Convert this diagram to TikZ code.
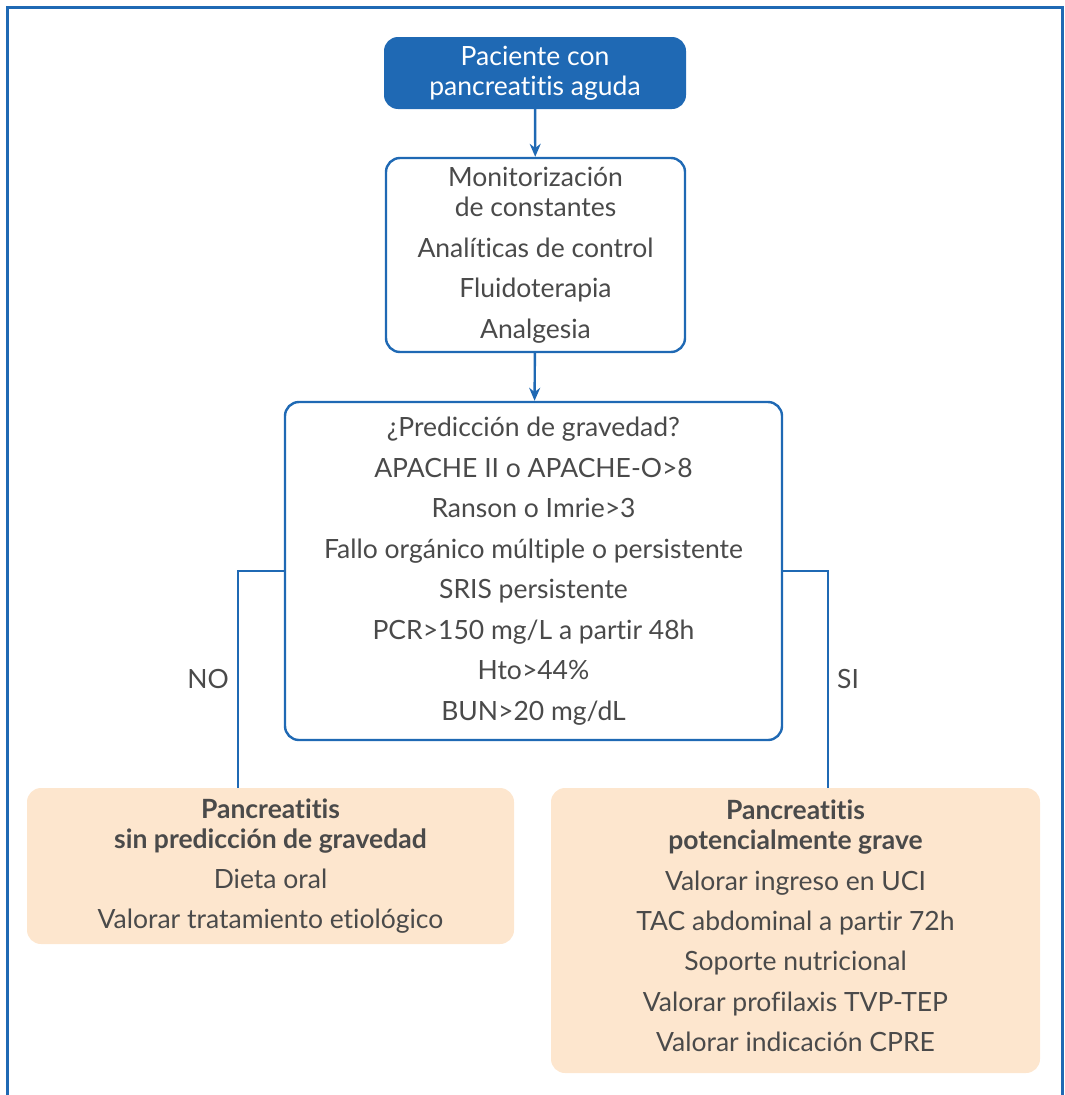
\documentclass[tikz,border=0pt]{standalone}
\usepackage{fontspec}
\setmainfont{Lato}[Ligatures=NoCommon]
\usetikzlibrary{arrows.meta}
\definecolor{flowblue}{HTML}{1F69B4}
\definecolor{peach}{HTML}{FDE6CE}
\definecolor{txtgray}{HTML}{4A4A4A}

\begin{document}
\begin{tikzpicture}
[x=1pt,y=-1pt,
 every node/.style={font=\fontsize{26.5}{30}\selectfont,text=txtgray,align=center,inner sep=0pt},
 topbox/.style={rectangle,rounded corners=14pt,fill=flowblue,text=white},
 stepbox/.style={rectangle,rounded corners=14pt,draw=flowblue,line width=2.4pt,fill=white},
 outbox/.style={rectangle,rounded corners=14pt,fill=peach},
 link/.style={draw=flowblue,line width=2.4pt},
 arr/.style={link,-{Stealth[length=13pt,width=11pt]}}]
  \useasboundingbox (0,0) rectangle (1065,1095);

  % outer frame, open at the bottom
  \draw[flowblue,line width=3pt] (7,1095) |- (1062,7) -- (1062,1095);

  \node[topbox,minimum width=302pt,minimum height=72pt] (start) at (535,73)
    {Paciente con\\pancreatitis aguda};
  \node[stepbox,minimum width=299pt,minimum height=194pt] (monitor) at (535.5,255)
    {Monitorización\\de constantes\\[10.5pt]Analíticas de control\\[10.5pt]Fluidoterapia\\[10.5pt]Analgesia};
  \node[stepbox,minimum width=497pt,minimum height=338pt,
        font=\fontsize{26.5}{40.5}\selectfont] (pred) at (533.5,571)
    {¿Predicción de gravedad?\\APACHE II o APACHE-O>8\\Ranson o Imrie>3\\
     Fallo orgánico múltiple o persistente\\SRIS persistente\\
     PCR>150 mg/L a partir 48h\\Hto>44\%\\BUN>20 mg/dL};

  \node[outbox,minimum width=487pt,minimum height=156pt] (leve) at (270.5,866)
    {{\bfseries Pancreatitis}\\{\bfseries sin predicción de gravedad}\\[10.5pt]
     Dieta oral\\[10pt]Valorar tratamiento etiológico};
  \node[outbox,minimum width=489pt,minimum height=285pt] (grave) at (795.5,930.5)
    {{\bfseries Pancreatitis}\\{\bfseries potencialmente grave}\\[11pt]
     Valorar ingreso en UCI\\[10pt]TAC abdominal a partir 72h\\[10.5pt]
     Soporte nutricional\\[10.5pt]Valorar profilaxis TVP-TEP\\[10pt]Valorar indicación CPRE\\[-20pt]\rule{0pt}{0pt}};

  \node (nolab) at (208,679) {NO};
  \node (silab) at (848,679) {SI};

  \draw[arr] (start) -- (monitor);
  \draw[arr] (monitor) -- (pred);

  \coordinate (nobend) at (238,571);
  \coordinate (sibend) at (828,571);
  \draw[link] (pred.west) -- (nobend) -- (nobend |- leve.north);
  \draw[link] (pred.east) -- (sibend) -- (sibend |- grave.north);

\end{tikzpicture}
\end{document}
